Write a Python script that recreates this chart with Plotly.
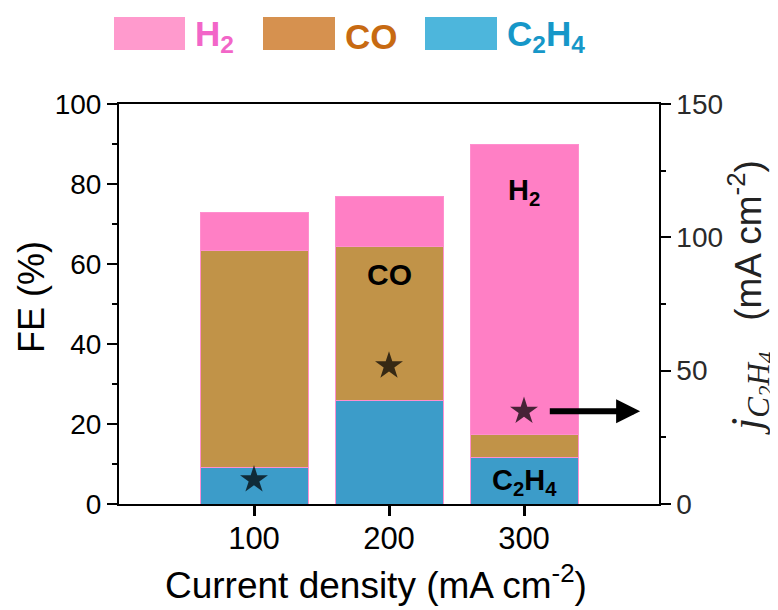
import plotly.graph_objects as go

currents = [100, 200, 300]
fe_c2h4 = [9.1, 25.9, 11.6]
fe_co = [54.3, 38.5, 5.8]
fe_h2 = [9.4, 12.5, 72.6]
j_c2h4 = [9.1, 51.8, 34.8]

bar_colors = {"C2H4": "#3C9CC9", "CO": "#C19348", "H2": "#FF7FC5"}
legend_fill = {"H2": "#FF9ACD", "CO": "#D6914F", "C2H4": "#4DB6DC"}
legend_text = {"H2": "#F266C8", "CO": "#C76A12", "C2H4": "#1697C8"}

FONT = "Liberation Sans, Arial, sans-serif"
SERIF = "Liberation Serif, Times New Roman, serif"

# page offset (body margin) and plot area in screenshot pixels
OFF = 8
L, R, T, B = 119, 659, 104, 504
W, H = R - L, B - T


def px(x):
    return (x - L) / W


def py(y):
    return (B - y) / H


fig = go.Figure()
for name, vals in [("C2H4", fe_c2h4), ("CO", fe_co), ("H2", fe_h2)]:
    fig.add_trace(go.Bar(
        x=currents, y=vals, width=80, name=name,
        marker=dict(color=bar_colors[name], line=dict(color="#FF8FCF", width=1)),
        showlegend=False,
    ))

fig.add_trace(go.Scatter(
    x=currents, y=j_c2h4, yaxis="y2", mode="markers",
    marker=dict(symbol="star", size=21, color="rgba(0,0,0,0.72)", line=dict(width=0)),
    showlegend=False,
))

fig.update_layout(
    width=778, height=610,
    margin=dict(l=L - OFF, r=778 - (R - OFF), t=T - OFF, b=610 - (B - OFF), autoexpand=False),
    paper_bgcolor="white", plot_bgcolor="white",
    barmode="stack",
    font=dict(family=FONT, color="black"),
    xaxis=dict(
        range=[0, 400], tickvals=currents, ticktext=[str(c) for c in currents],
        ticks="outside", ticklen=10, tickwidth=2.5, tickcolor="black",
        showline=True, linecolor="black", linewidth=2, mirror=True,
        showgrid=False, zeroline=False, automargin=False,
        tickfont=dict(size=31, family=FONT), ticklabelstandoff=-4,
    ),
    yaxis=dict(
        range=[0, 100], tickvals=[0, 20, 40, 60, 80, 100],
        ticks="outside", ticklen=10, tickwidth=2, tickcolor="black",
        minor=dict(tickvals=[10, 30, 50, 70, 90], ticks="outside", ticklen=5, tickwidth=2, tickcolor="black"),
        showline=True, linecolor="black", linewidth=2,
        showgrid=False, zeroline=False, automargin=False,
        tickfont=dict(size=28, family=FONT),
    ),
    yaxis2=dict(
        overlaying="y", side="right", range=[0, 150], tickvals=[0, 50, 100, 150],
        ticks="outside", ticklen=10, tickwidth=1.5, tickcolor="black",
        minor=dict(tickvals=[25, 75, 125], ticks="outside", ticklen=5, tickwidth=1.5, tickcolor="black"),
        showline=True, linecolor="black", linewidth=1.5,
        showgrid=False, zeroline=False, automargin=False,
        tickfont=dict(size=28, family=FONT, color="#2a2a2a"),
    ),
)

# Axis titles
fig.add_annotation(xref="paper", yref="paper", x=px(376), y=py(582), xanchor="center", yanchor="middle",
                   showarrow=False,
                   text="Current density (mA cm<sup>-2</sup>)", font=dict(size=37, family=FONT, color="black"))
fig.add_annotation(xref="paper", yref="paper", x=px(31), y=py(297), xanchor="center", yanchor="middle",
                   showarrow=False, textangle=-90,
                   text="FE (%)", font=dict(size=36, family=FONT, color="black"))
fig.add_annotation(xref="paper", yref="paper", x=px(750), y=py(298), xanchor="center", yanchor="middle",
                   showarrow=False, textangle=-90,
                   text=("<span style='font-family:" + SERIF + ";font-size:44px'><i>j</i></span>"
                         "<sub><span style='font-family:" + SERIF + ";font-size:31px'><i>C</i></span>"
                         "<sub><span style='font-family:" + SERIF + ";font-size:23px'><i>2</i></span></sub>"
                         "<span style='font-family:" + SERIF + ";font-size:31px'><i>H</i></span>"
                         "<sub><span style='font-family:" + SERIF + ";font-size:23px'><i>4</i></span></sub></sub>"
                         "   (mA cm<sup>-2</sup>)"),
                   font=dict(size=37, family=FONT, color="#222222"))

# In-bar labels
fig.add_annotation(x=300, y=78, text="<b>H<sub>2</sub></b>", showarrow=False, font=dict(size=29, family=FONT, color="black"))
fig.add_annotation(x=200, y=57.5, text="<b>CO</b>", showarrow=False, font=dict(size=30, family=FONT, color="black"))
fig.add_annotation(x=300, y=5.5, text="<b>C<sub>2</sub>H<sub>4</sub></b>", showarrow=False, font=dict(size=29, family=FONT, color="black"))

# Arrow pointing to right axis
fig.add_annotation(x=386, y=j_c2h4[2], xref="x", yref="y2", ax=318, ay=j_c2h4[2], axref="x", ayref="y2",
                   showarrow=True, arrowhead=2, arrowsize=0.8, arrowwidth=6, arrowcolor="black", text="")

# Custom legend at top
items = [("H2", "H<sub>2</sub>", 114, 185), ("CO", "CO", 263, 335), ("C2H4", "C<sub>2</sub>H<sub>4</sub>", 425, 497)]
for key, label, x0, x1 in items:
    fig.add_shape(type="rect", xref="paper", yref="paper",
                  x0=px(x0), x1=px(x1), y0=py(50), y1=py(17),
                  fillcolor=legend_fill[key], line=dict(width=0), layer="above")
    fig.add_annotation(xref="paper", yref="paper", x=px(x1 + 8), y=py(36),
                       xanchor="left", yanchor="middle", showarrow=False,
                       text="<b>" + label + "</b>", font=dict(size=35, family=FONT, color=legend_text[key]))

fig.write_html("out.html")
